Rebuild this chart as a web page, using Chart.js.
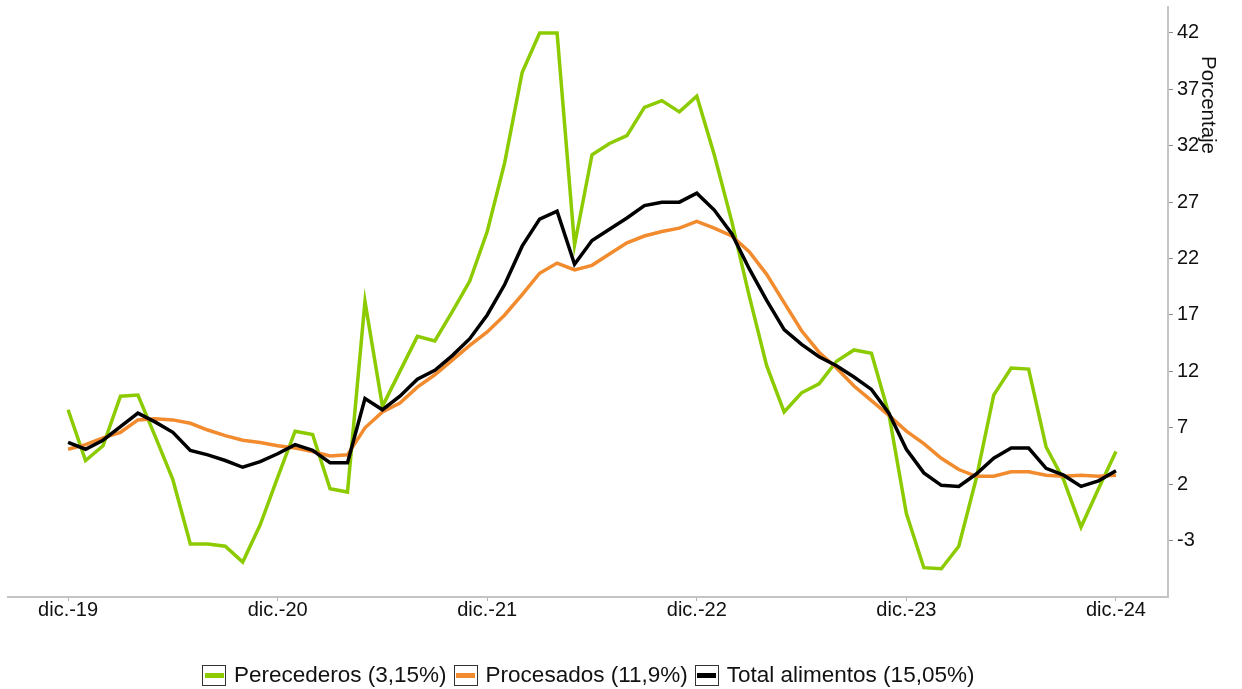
<!DOCTYPE html>
<html lang="es">
<head>
<meta charset="UTF-8">
<title>Inflación de alimentos</title>
<script src="https://cdn.jsdelivr.net/npm/chart.js"></script>
<style>
    body {
        margin: 0;
        padding: 0;
        background: #fff;
        font-family: "Liberation Sans", Arial, sans-serif;
    }
    .wrap {
        position: relative;
        width: 1242px;
        height: 689px;
    }
    .legend {
        position: absolute;
        left: 202px;
        top: 662px;
        display: flex;
        align-items: center;
        font-size: 22.5px;
        color: #111;
        white-space: nowrap;
    }
    .legend .item {
        display: flex;
        align-items: center;
        margin-right: 7px;
    }
    .legend .box {
        width: 22px;
        height: 19px;
        border: 1.5px solid #333;
        display: flex;
        align-items: center;
        justify-content: center;
        margin-right: 8px;
    }
    .legend .box span {
        display: block;
        width: 19px;
        height: 5px;
    }
</style>
</head>
<body>
<div class="wrap">
    <canvas id="chart" width="1242" height="689"></canvas>
    <div class="legend" id="legend"></div>
</div>
<script>
    // variación anual, dic-19 .. dic-24 (mensual)
    const perecederos = [8.6, 4.1, 5.4, 9.8, 9.9, 6.2, 2.4, -3.3, -3.3, -3.5, -4.9, -1.6,
        2.6, 6.7, 6.4, 1.6, 1.3, 18.2, 8.9, 12.0, 15.1, 14.7, 17.3, 20.0,
        24.4, 30.5, 38.5, 42.0, 42.0, 23.2, 31.2, 32.2, 32.9, 35.4, 36.0, 35.0,
        36.4, 31.2, 25.3, 18.7, 12.5, 8.4, 10.1, 10.9, 12.9, 13.9, 13.6, 8.2,
        -0.6, -5.4, -5.5, -3.5, 2.5, 9.9, 12.3, 12.2, 5.3, 2.4, -1.8, 1.6, 4.9];
    const procesados = [5.1, 5.5, 6.1, 6.6, 7.7, 7.8, 7.7, 7.4, 6.8, 6.3, 5.9, 5.7,
        5.4, 5.2, 4.9, 4.5, 4.6, 7.0, 8.4, 9.2, 10.6, 11.7, 13.0, 14.3,
        15.5, 17.0, 18.8, 20.7, 21.6, 21.0, 21.4, 22.4, 23.4, 24.0, 24.4, 24.7,
        25.3, 24.7, 24.0, 22.6, 20.6, 18.1, 15.6, 13.7, 12.3, 10.7, 9.4, 8.1,
        6.7, 5.6, 4.3, 3.3, 2.7, 2.7, 3.1, 3.1, 2.8, 2.7, 2.8, 2.7, 2.8];
    const totalAlimentos = [5.7, 5.1, 5.9, 7.1, 8.3, 7.5, 6.6, 5.0, 4.6, 4.1, 3.5, 4.0,
        4.7, 5.5, 5.0, 3.9, 3.9, 9.6, 8.6, 9.8, 11.3, 12.1, 13.4, 14.9,
        17.0, 19.7, 23.1, 25.5, 26.2, 21.5, 23.6, 24.6, 25.6, 26.7, 27.0, 27.0,
        27.8, 26.3, 24.2, 21.1, 18.3, 15.7, 14.4, 13.3, 12.5, 11.5, 10.4, 8.3,
        5.1, 3.0, 1.9, 1.8, 2.9, 4.3, 5.2, 5.2, 3.4, 2.8, 1.8, 2.3, 3.2];

    const seriesNames = ["Perecederos (3,15%)", "Procesados (11,9%)", "Total alimentos (15,05%)"];
    const seriesColors = ["#8ccb00", "#f28a2e", "#000000"];

    const xTickPos = [0, 12, 24, 36, 48, 60];
    const xTickLabels = ["dic.-19", "dic.-20", "dic.-21", "dic.-22", "dic.-23", "dic.-24"];
    const yTicks = [-3, 2, 7, 12, 17, 22, 27, 32, 37, 42];

    function toPoints(arr) {
        return arr.map((v, i) => ({ x: i, y: v }));
    }

    const font = { family: "'Liberation Sans', Arial, sans-serif", size: 20 };

    const yTitle = {
        id: "yTitle",
        afterDraw(chart) {
            const ctx = chart.ctx;
            ctx.save();
            ctx.translate(1202, 56);
            ctx.rotate(Math.PI / 2);
            ctx.font = "20.5px 'Liberation Sans', Arial, sans-serif";
            ctx.fillStyle = "#111";
            ctx.textAlign = "left";
            ctx.textBaseline = "alphabetic";
            ctx.fillText("Porcentaje", 0, 0);
            ctx.restore();
        }
    };

    const ctx = document.getElementById("chart").getContext("2d");
    new Chart(ctx, {
        type: "line",
        data: {
            datasets: [
                { label: seriesNames[2], data: toPoints(totalAlimentos), borderColor: seriesColors[2], order: 1 },
                { label: seriesNames[1], data: toPoints(procesados), borderColor: seriesColors[1], order: 2 },
                { label: seriesNames[0], data: toPoints(perecederos), borderColor: seriesColors[0], order: 3 }
            ]
        },
        options: {
            responsive: false,
            animation: false,
            datasets: {
                line: { borderWidth: 3.5, pointRadius: 0, tension: 0, fill: false }
            },
            layout: { padding: { left: 8, top: 7, right: 0, bottom: 62 } },
            plugins: {
                legend: { display: false },
                tooltip: { enabled: false }
            },
            scales: {
                x: {
                    type: "linear",
                    min: -3.44,
                    max: 62.98,
                    afterBuildTicks: s => { s.ticks = xTickPos.map(v => ({ value: v })); },
                    afterFit: s => { s.height = 30; s.paddingLeft = 0; s.paddingRight = 0; },
                    grid: { drawOnChartArea: false, tickLength: 4, color: "#b0b0b0" },
                    border: { color: "#c4c4c4", width: 2 },
                    ticks: {
                        font: font,
                        color: "#111",
                        padding: -3,
                        maxRotation: 0,
                        callback: v => xTickLabels[xTickPos.indexOf(v)]
                    }
                },
                y: {
                    position: "right",
                    min: -8,
                    max: 44.3,
                    afterBuildTicks: s => { s.ticks = yTicks.map(v => ({ value: v })); },
                    afterFit: s => { s.width = 74; s.paddingTop = 0; s.paddingBottom = 0; },
                    grid: { drawOnChartArea: false, tickLength: 5, color: "#888" },
                    border: { color: "#c4c4c4", width: 2 },
                    ticks: { font: font, color: "#111", padding: 4 }
                }
            }
        },
        plugins: [yTitle]
    });

    // leyenda
    const legend = document.getElementById("legend");
    seriesNames.forEach((name, i) => {
        const item = document.createElement("div");
        item.className = "item";
        item.innerHTML = '<div class="box"><span style="background:' + seriesColors[i] + '"></span></div>' + name;
        legend.appendChild(item);
    });
</script>
</body>
</html>
